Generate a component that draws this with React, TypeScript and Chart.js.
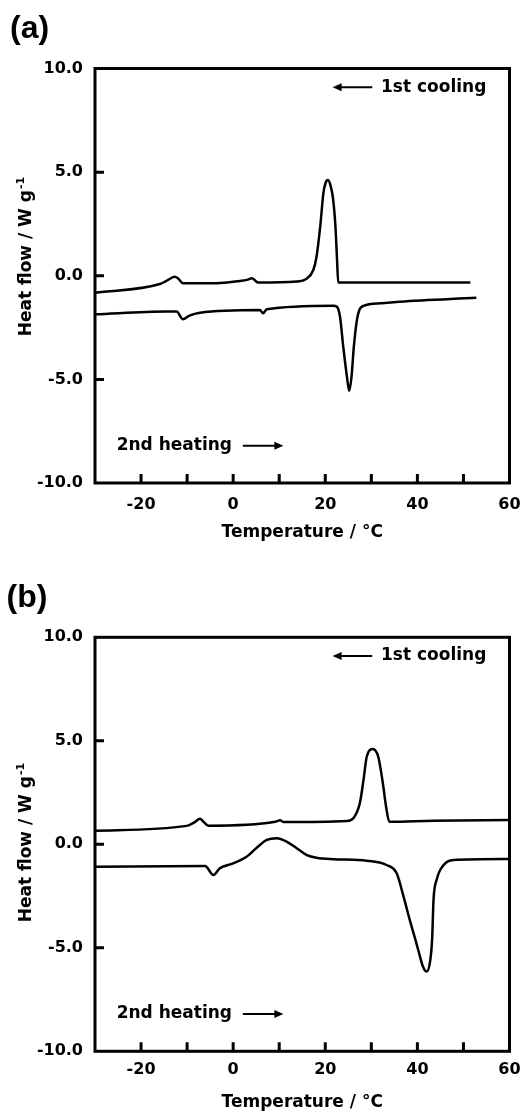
import React, { useEffect, useRef } from "react";
import { Chart, registerables } from "chart.js";

Chart.register(...registerables);

const FONT = '"DejaVu Sans", sans-serif';

// ---- axis ticks ----
const xTickLabels = [-20, 0, 20, 40, 60];
const xInnerTicks = [-20, -10, 0, 10, 20, 30, 40, 50];
const yTickLabels = [10, 5, 0, -5, -10];
const yInnerTicks = [5, 0, -5];

// ---- panel (a) ----
const coolA_T = [-30, -15.9, -14.5, -12.7, -12.0, -10.9, -3.6, 1.5, 3.0, 4.1, 5.4, 13.8, 15.9, 17.4, 18.1, 18.9, 19.6, 20.1, 20.6, 21.2, 21.7, 22.2, 22.55, 22.8, 51.5];
const coolA_HF = [-0.82, -0.4, -0.25, -0.05, -0.12, -0.36, -0.36, -0.25, -0.2, -0.12, -0.33, -0.28, -0.15, 0.28, 0.92, 2.37, 4.0, 4.5, 4.62, 4.3, 3.7, 2.4, 0.8, -0.32, -0.32];
const heatA_T = [-30, -14.5, -12.3, -10.9, -9.5, -7.2, 5.8, 6.5, 7.3, 21.7, 22.5, 23.2, 23.9, 24.7, 25.2, 25.7, 26.2, 27.0, 28.3, 31.9, 36.2, 52.8];
const heatA_HF = [-1.86, -1.73, -1.73, -2.1, -1.92, -1.78, -1.65, -1.81, -1.62, -1.45, -1.49, -1.98, -3.42, -4.87, -5.55, -4.87, -3.42, -1.98, -1.45, -1.33, -1.25, -1.06];

// ---- panel (b) ----
const coolB_T = [-30, -10.1, -8.5, -7.2, -6.5, -5.4, 9.1, 10.2, 10.9, 24.7, 26.1, 27.5, 28.3, 29.0, 30.3, 31.5, 32.5, 33.2, 33.9, 43.5, 60];
const coolB_HF = [0.66, 0.89, 1.05, 1.23, 1.1, 0.9, 1.09, 1.16, 1.08, 1.13, 1.26, 1.98, 3.11, 4.23, 4.6, 4.23, 2.95, 1.82, 1.09, 1.14, 1.17];
const heatB_T = [-30, -6.1, -4.3, -2.9, 0, 2.9, 5.8, 7.3, 9.4, 11.6, 13.8, 16.0, 18.1, 21.7, 29.0, 33.3, 35.5, 37.0, 38.4, 39.5, 40.2, 41.2, 42.0, 42.8, 43.2, 43.5, 44.2, 45.7, 47.8, 60];
const heatB_HF = [-1.08, -1.05, -1.48, -1.16, -0.92, -0.6, -0.03, 0.21, 0.29, 0.13, -0.19, -0.52, -0.65, -0.72, -0.79, -1.0, -1.4, -2.53, -3.7, -4.55, -5.12, -5.9, -6.15, -5.6, -4.6, -2.7, -1.7, -1.0, -0.76, -0.71];

// ---- texts ----
const xTitle = "Temperature / °C";
const yTitleMain = "Heat flow / W g";
const yTitleSup = "-1";
const coolingLabel = "1st cooling";
const heatingLabel = "2nd heating";

// annotation anchors in data units (temperature, heat flow)
const coolingText = { x: 32.1, y: 9.1 };
const coolingArrow = { from: 30.2, to: 21.6, y: 9.1 };
const heatingText = { x: -25.3, y: -8.2 };
const heatingArrow = { from: 2.1, to: 10.9, y: -8.2 };

type PanelCfg = {
  height: number;
  padTop: number;
  xHeight: number;
  tickPad: number;
  titlePadBottom: number;
  yTitleCenter: number;
  cool: [number[], number[]];
  heat: [number[], number[]];
};

const toPts = (xs: number[], ys: number[]) => xs.map((x, i) => ({ x, y: ys[i] }));

function drawArrow(ctx: CanvasRenderingContext2D, x1: number, x2: number, y: number) {
  const dir = Math.sign(x2 - x1);
  const headLen = 9;
  ctx.beginPath();
  ctx.lineWidth = 2;
  ctx.moveTo(x1, y);
  ctx.lineTo(x2 - dir * headLen * 0.6, y);
  ctx.stroke();
  ctx.beginPath();
  ctx.moveTo(x2, y);
  ctx.lineTo(x2 - dir * headLen, y - 4);
  ctx.lineTo(x2 - dir * headLen, y + 4);
  ctx.closePath();
  ctx.fill();
}

function makeDecor(cfg: PanelCfg) {
  return {
    id: "decor",
    afterDatasetsDraw(chart: any) {
      const { ctx, chartArea: ca, scales } = chart;
      const xs = scales.x;
      const ys = scales.y;
      ctx.save();
      ctx.strokeStyle = "#000";
      ctx.fillStyle = "#000";
      ctx.lineWidth = 3;
      ctx.strokeRect(ca.left, ca.top, ca.right - ca.left, ca.bottom - ca.top);
      ctx.beginPath();
      for (const v of xInnerTicks) {
        const px = xs.getPixelForValue(v);
        ctx.moveTo(px, ca.bottom);
        ctx.lineTo(px, ca.bottom - 9);
      }
      for (const v of yInnerTicks) {
        const py = ys.getPixelForValue(v);
        ctx.moveTo(ca.left, py);
        ctx.lineTo(ca.left + 9, py);
      }
      ctx.stroke();

      ctx.font = `bold 17px ${FONT}`;
      ctx.textBaseline = "middle";
      ctx.textAlign = "left";
      ctx.fillText(coolingLabel, xs.getPixelForValue(coolingText.x), ys.getPixelForValue(coolingText.y));
      ctx.fillText(heatingLabel, xs.getPixelForValue(heatingText.x), ys.getPixelForValue(heatingText.y));
      drawArrow(ctx, xs.getPixelForValue(coolingArrow.from), xs.getPixelForValue(coolingArrow.to), ys.getPixelForValue(coolingArrow.y));
      drawArrow(ctx, xs.getPixelForValue(heatingArrow.from), xs.getPixelForValue(heatingArrow.to), ys.getPixelForValue(heatingArrow.y));

      // y-axis title with superscript
      ctx.translate(31, cfg.yTitleCenter);
      ctx.rotate(-Math.PI / 2);
      ctx.textBaseline = "alphabetic";
      ctx.font = `bold 17px ${FONT}`;
      const wMain = ctx.measureText(yTitleMain).width;
      ctx.font = `bold 11px ${FONT}`;
      const wSup = ctx.measureText(yTitleSup).width;
      const start = -(wMain + wSup + 1) / 2;
      ctx.font = `bold 17px ${FONT}`;
      ctx.fillText(yTitleMain, start, 0);
      ctx.font = `bold 11px ${FONT}`;
      ctx.fillText(yTitleSup, start + wMain + 1, -7);
      ctx.restore();
    },
  };
}

function Panel({ cfg }: { cfg: PanelCfg }) {
  const ref = useRef<HTMLCanvasElement>(null);
  useEffect(() => {
    if (!ref.current) return;
    const line = (pts: { x: number; y: number }[]) => ({
      data: pts,
      borderColor: "#000",
      borderWidth: 2.5,
      pointRadius: 0,
      fill: false,
      cubicInterpolationMode: "monotone" as const,
    });
    const chart = new Chart(ref.current, {
      type: "line",
      data: {
        datasets: [line(toPts(cfg.cool[0], cfg.cool[1])), line(toPts(cfg.heat[0], cfg.heat[1]))],
      },
      plugins: [makeDecor(cfg)],
      options: {
        responsive: false,
        animation: false,
        layout: { padding: { left: 0, right: 13.5, top: cfg.padTop, bottom: 0 } },
        plugins: { legend: { display: false }, tooltip: { enabled: false } },
        scales: {
          x: {
            type: "linear",
            min: -30,
            max: 60,
            grid: { display: false, drawTicks: false },
            border: { display: false },
            ticks: {
              color: "#000",
              font: { family: FONT, size: 16, weight: "bold" },
              padding: cfg.tickPad,
              maxRotation: 0,
              autoSkip: false,
              callback: (v: any) => String(v),
            },
            title: {
              display: true,
              text: xTitle,
              color: "#000",
              font: { family: FONT, size: 17, weight: "bold" },
              padding: { top: 0, bottom: cfg.titlePadBottom },
            },
            afterBuildTicks: (s: any) => {
              s.ticks = xTickLabels.map((v) => ({ value: v }));
            },
            afterFit: (s: any) => {
              s.height = cfg.xHeight;
              s.paddingLeft = 0;
              s.paddingRight = 0;
            },
          },
          y: {
            type: "linear",
            min: -10,
            max: 10,
            grid: { display: false, drawTicks: false },
            border: { display: false },
            ticks: {
              color: "#000",
              font: { family: FONT, size: 16, weight: "bold" },
              padding: 12,
              callback: (v: any) => Number(v).toFixed(1),
            },
            afterBuildTicks: (s: any) => {
              s.ticks = yTickLabels.map((v) => ({ value: v }));
            },
            afterFit: (s: any) => {
              s.width = 95;
              s.paddingTop = 0;
              s.paddingBottom = 0;
            },
          },
        },
      } as any,
    });
    return () => chart.destroy();
  }, [cfg]);
  return <canvas ref={ref} width={523} height={cfg.height} style={{ display: "block" }} />;
}

const panelA: PanelCfg = {
  height: 556,
  padTop: 68.5,
  xHeight: 73,
  tickPad: 12,
  titlePadBottom: 12.8,
  yTitleCenter: 256.5,
  cool: [coolA_T, coolA_HF],
  heat: [heatA_T, heatA_HF],
};

const panelB: PanelCfg = {
  height: 557,
  padTop: 81.3,
  xHeight: 61.7,
  tickPad: 9,
  titlePadBottom: 0.5,
  yTitleCenter: 286.5,
  cool: [coolB_T, coolB_HF],
  heat: [heatB_T, heatB_HF],
};

const labelStyle: React.CSSProperties = {
  position: "absolute",
  fontFamily: '"Liberation Sans", Arial, sans-serif',
  fontWeight: "bold",
  fontSize: 32,
  lineHeight: "32px",
  color: "#000",
};

export default function App() {
  return (
    <div style={{ position: "absolute", left: 0, top: 0, width: 523, height: 1113, background: "#fff", overflow: "hidden" }}>
      <Panel cfg={panelA} />
      <Panel cfg={panelB} />
      <div style={{ ...labelStyle, left: 10, top: 11 }}>(a)</div>
      <div style={{ ...labelStyle, left: 6.5, top: 579.5 }}>(b)</div>
    </div>
  );
}
